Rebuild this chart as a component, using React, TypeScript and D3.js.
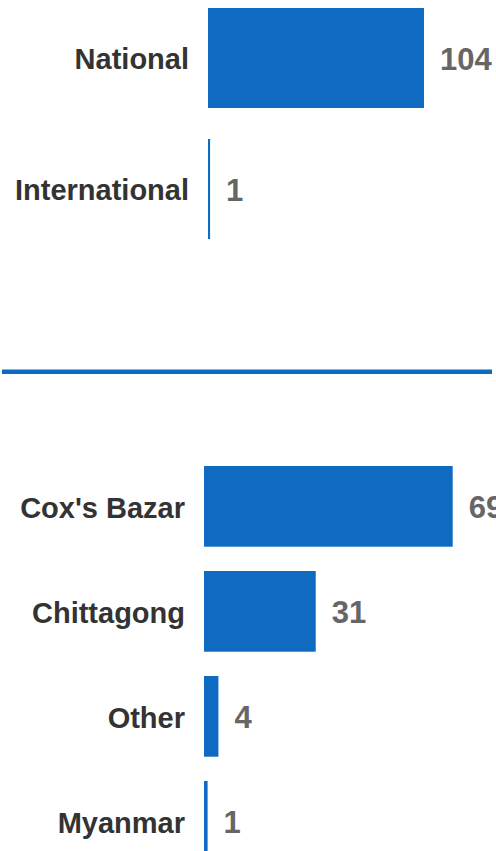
import React from "react";
import * as d3 from "d3";

const topCategories = ["National", "International"];
const topValues = [104, 1];

const bottomCategories = ["Cox's Bazar", "Chittagong", "Other", "Myanmar"];
const bottomValues = [69, 31, 4, 1];

const W = 496;
const H = 851;
const BAR = "#0f6bc1";
const LABEL = "#333333";
const VALUE = "#666666";
const FONT = "'Liberation Sans', Arial, Helvetica, sans-serif";

type PanelProps = {
  cats: string[];
  vals: number[];
  y: d3.ScaleBand<string>;
  x: d3.ScaleLinear<number, number>;
  labelX: number;
};

function Panel({ cats, vals, y, x, labelX }: PanelProps) {
  const bw = y.bandwidth();
  return (
    <g>
      {cats.map((c, i) => {
        const y0 = y(c) as number;
        const cy = y0 + bw / 2;
        const x0 = x(0);
        const x1 = x(vals[i]);
        return (
          <g key={c}>
            <rect x={x0} y={y0} width={x1 - x0} height={bw} fill={BAR} />
            <text
              x={labelX}
              y={cy + 0.39 * 29}
              textAnchor="end"
              fontFamily={FONT}
              fontWeight="bold"
              fontSize={29}
              fill={LABEL}
            >
              {c}
            </text>
            <text
              x={x1 + 16}
              y={cy + 0.38 * 31}
              textAnchor="start"
              fontFamily={FONT}
              fontWeight="bold"
              fontSize={31}
              fill={VALUE}
            >
              {vals[i]}
            </text>
          </g>
        );
      })}
    </g>
  );
}

export default function App() {
  const topY = d3
    .scaleBand<string>()
    .domain(topCategories)
    .range([8, 239])
    .paddingInner(31 / 131)
    .paddingOuter(0);
  const topX = d3.scaleLinear().domain([0, 104]).range([208, 424]);

  const botY = d3
    .scaleBand<string>()
    .domain(bottomCategories)
    .range([466, 861.7])
    .paddingInner(24.3 / 105)
    .paddingOuter(0);
  const botX = d3.scaleLinear().domain([0, 69]).range([204, 452.7]);

  return (
    <svg
      width={W}
      height={H}
      style={{ position: "absolute", left: 0, top: 0, display: "block" }}
    >
      <rect x={0} y={0} width={W} height={H} fill="#ffffff" />
      <Panel cats={topCategories} vals={topValues} y={topY} x={topX} labelX={189} />
      <rect x={2} y={369.5} width={490} height={4.5} fill={BAR} />
      <Panel cats={bottomCategories} vals={bottomValues} y={botY} x={botX} labelX={185} />
    </svg>
  );
}
